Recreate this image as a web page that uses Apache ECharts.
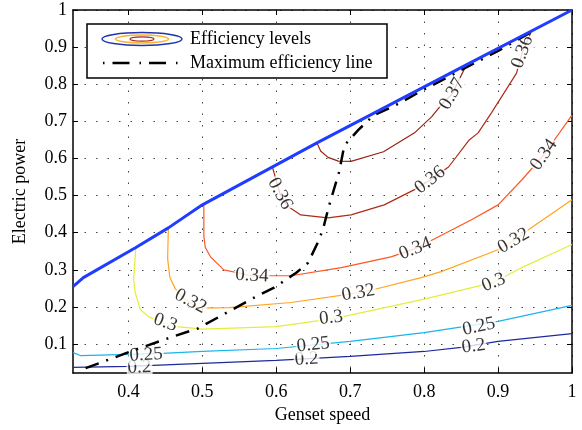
<!DOCTYPE html>
<html>
<head>
<meta charset="utf-8">
<script src="https://cdn.jsdelivr.net/npm/echarts@6/dist/echarts.min.js"></script>
<style>
html, body { margin: 0; padding: 0; background: #fff; }
#chart { width: 582px; height: 430px; }
</style>
</head>
<body>
<div id="chart"></div>
<script>
// axis ticks
var xTicks = [0.4, 0.5, 0.6, 0.7, 0.8, 0.9, 1];
var yTicks = [0.1, 0.2, 0.3, 0.4, 0.5, 0.6, 0.7, 0.8, 0.9, 1];

// upper limit of operation (blue)
var boundary = [[0.325, 0.255], [0.339, 0.279], [0.41, 0.36], [0.454, 0.413], [0.5, 0.475],
    [0.525, 0.502], [0.655, 0.642], [0.857, 0.852], [1, 1]];

// maximum efficiency line (dash-dot)
var maxEff = [[0.342, 0.035], [0.407, 0.083], [0.46, 0.12], [0.494, 0.142], [0.536, 0.188],
    [0.568, 0.223], [0.597, 0.252], [0.627, 0.292], [0.643, 0.319], [0.656, 0.373],
    [0.663, 0.408], [0.671, 0.47], [0.685, 0.564], [0.692, 0.635], [0.711, 0.677],
    [0.732, 0.717], [0.76, 0.742], [0.8, 0.786], [0.85, 0.838], [0.9, 0.89], [0.948, 0.944]];

// efficiency contours
var c20 = [[0.325, 0.037], [0.4, 0.04], [0.5, 0.048], [0.6, 0.056], [0.7, 0.067], [0.8, 0.08],
    [0.85, 0.091], [0.9, 0.107], [1, 0.128]];
var c25 = [[0.325, 0.077], [0.335, 0.069], [0.4, 0.072], [0.446, 0.075], [0.5, 0.08], [0.6, 0.088],
    [0.7, 0.107], [0.8, 0.131], [0.9, 0.161], [1, 0.204]];
var c30 = [[0.41, 0.36], [0.407, 0.274], [0.409, 0.24], [0.416, 0.193], [0.427, 0.174],
    [0.45, 0.155], [0.466, 0.147], [0.5, 0.14], [0.6, 0.147], [0.674, 0.168], [0.7, 0.178],
    [0.8, 0.221], [0.894, 0.266], [0.932, 0.306], [1, 0.368]];
var c32 = [[0.454, 0.413], [0.453, 0.33], [0.456, 0.28], [0.463, 0.25], [0.475, 0.222],
    [0.494, 0.197], [0.536, 0.198], [0.62, 0.212], [0.711, 0.238], [0.732, 0.247],
    [0.796, 0.279], [0.823, 0.295], [0.9, 0.354], [0.921, 0.378], [0.941, 0.408], [1, 0.489]];
var c34 = [[0.502, 0.473], [0.502, 0.39], [0.504, 0.36], [0.511, 0.335], [0.529, 0.3],
    [0.567, 0.284], [0.62, 0.284], [0.688, 0.306], [0.755, 0.335], [0.788, 0.357],
    [0.83, 0.4], [0.864, 0.435], [0.9, 0.475], [0.932, 0.542], [0.962, 0.61], [1, 0.717]];
var c36 = [[0.595, 0.575], [0.6, 0.54], [0.605, 0.505], [0.612, 0.48], [0.62, 0.465],
    [0.633, 0.448], [0.67, 0.44], [0.701, 0.448], [0.746, 0.475], [0.787, 0.516],
    [0.808, 0.542], [0.833, 0.577], [0.861, 0.65], [0.873, 0.669], [0.891, 0.723],
    [0.925, 0.83], [0.933, 0.887], [0.945, 0.942]];
var c37 = [[0.655, 0.642], [0.66, 0.62], [0.67, 0.603], [0.684, 0.593], [0.701, 0.592],
    [0.745, 0.618], [0.787, 0.669], [0.81, 0.712], [0.823, 0.744], [0.838, 0.774], [0.857, 0.852]];

// contour labels: x, y, text, angle
var labelX = [0.415, 0.641, 0.867, 0.424, 0.65, 0.874, 0.45, 0.674, 0.894, 0.484, 0.711, 0.921,
    0.567, 0.788, 0.962, 0.605, 0.808, 0.933, 0.838];
var labelY = [0.037, 0.059, 0.094, 0.071, 0.098, 0.147, 0.158, 0.171, 0.266, 0.215, 0.238, 0.378,
    0.284, 0.357, 0.61, 0.505, 0.542, 0.887, 0.774];
var labelText = ['0.2', '0.2', '0.2', '0.25', '0.25', '0.25', '0.3', '0.3', '0.3', '0.32', '0.32', '0.32',
    '0.34', '0.34', '0.34', '0.36', '0.36', '0.36', '0.37'];
var labelAngle = [2, 3, 8, 3, 6, 12, -20, 6, 22, -28, 10, 30, -3, 22, 55, -62, 38, 70, 60];

var font = 'Liberation Serif';
var chart = echarts.init(document.getElementById('chart'));

var contour = function (data, color) {
    return {
        type: 'line', data: data, showSymbol: false, silent: true, z: 2,
        lineStyle: { color: color, width: 1.2 }
    };
};

var labelData = labelX.map(function (x, i) {
    return {
        value: [x, labelY[i]],
        label: {
            show: true, position: 'inside', formatter: labelText[i], rotate: labelAngle[i],
            color: '#000', fontFamily: font, fontSize: 19, backgroundColor: '#fff', padding: [0, 1]
        }
    };
});

var axisCommon = {
    type: 'value',
    axisLine: { show: true, onZero: false, lineStyle: { color: '#000', width: 1.5 } },
    axisTick: { show: true, inside: true, length: 5, lineStyle: { color: '#000', width: 1 } },
    axisLabel: { color: '#000', fontFamily: font, fontSize: 18 },
    splitLine: { show: false }
};

chart.setOption({
    animation: false,
    grid: { left: 73, right: 10, top: 10, bottom: 57 },
    xAxis: [
        echarts.util.merge({
            min: 0.325, max: 1, position: 'bottom',
            name: 'Genset speed', nameLocation: 'middle', nameGap: 32,
            nameTextStyle: { color: '#000', fontFamily: font, fontSize: 18 },
            axisTick: { customValues: xTicks },
            axisLabel: { customValues: xTicks, margin: 10 },
            splitLine: { show: true, lineStyle: { color: '#444', type: [1.5, 10], width: 1 } }
        }, axisCommon, false),
        echarts.util.merge({
            min: 0.325, max: 1, position: 'top',
            axisTick: { customValues: xTicks },
            axisLabel: { show: false }
        }, axisCommon, false)
    ],
    yAxis: [
        echarts.util.merge({
            min: 0.022, max: 1, position: 'left',
            name: 'Electric power', nameLocation: 'middle', nameGap: 44,
            nameTextStyle: { color: '#000', fontFamily: font, fontSize: 18 },
            axisTick: { customValues: yTicks },
            axisLabel: { customValues: yTicks, margin: 6 },
            splitLine: { show: true, lineStyle: { color: '#444', type: [1.5, 10], width: 1 } }
        }, axisCommon, false),
        echarts.util.merge({
            min: 0.022, max: 1, position: 'right',
            axisTick: { customValues: yTicks },
            axisLabel: { show: false }
        }, axisCommon, false)
    ],
    series: [
        contour(c20, '#1c2a9a'),
        contour(c25, '#1ab4ee'),
        contour(c30, '#e2ee3a'),
        contour(c32, '#ffa51e'),
        contour(c34, '#ff5522'),
        contour(c36, '#b02a16'),
        contour(c37, '#9a2212'),
        {
            type: 'scatter', data: labelData, symbolSize: 0, silent: true, z: 3,
            label: {
                show: true, position: 'inside', color: '#000', fontFamily: font, fontSize: 19,
                backgroundColor: '#fff', padding: [0, 1]
            }
        },
        {
            type: 'line', data: maxEff, showSymbol: false, silent: true, z: 4,
            lineStyle: { color: '#000', width: 2.5, type: [14, 8, 2, 8] }
        },
        {
            type: 'line', data: boundary, showSymbol: false, silent: true, z: 5,
            lineStyle: { color: '#1f3cff', width: 3 }
        }
    ],
    graphic: [
        { type: 'rect', shape: { x: 87, y: 24, width: 300, height: 54 }, z: 10,
          style: { fill: '#fff', stroke: '#000', lineWidth: 1.5 } },
        { type: 'ellipse', shape: { cx: 142, cy: 39, rx: 40, ry: 6.5 }, z: 11,
          style: { fill: 'none', stroke: '#2036b0', lineWidth: 1.5 } },
        { type: 'ellipse', shape: { cx: 142, cy: 39, rx: 26.5, ry: 4 }, z: 11,
          style: { fill: 'none', stroke: '#f7b52a', lineWidth: 1.5 } },
        { type: 'ellipse', shape: { cx: 142, cy: 39, rx: 12, ry: 2.2 }, z: 11,
          style: { fill: 'none', stroke: '#a82a22', lineWidth: 1.2 } },
        { type: 'polyline', shape: { points: [[103, 63], [181, 63]] }, z: 11,
          style: { stroke: '#000', lineWidth: 2.5, lineDash: [1.5, 8, 17, 10] } },
        { type: 'text', x: 190, y: 39, z: 11,
          style: { text: 'Efficiency levels', font: '18px "Liberation Serif"', fill: '#000', verticalAlign: 'middle' } },
        { type: 'text', x: 190, y: 63, z: 11,
          style: { text: 'Maximum efficiency line', font: '18px "Liberation Serif"', fill: '#000', verticalAlign: 'middle' } }
    ]
});
</script>
</body>
</html>
